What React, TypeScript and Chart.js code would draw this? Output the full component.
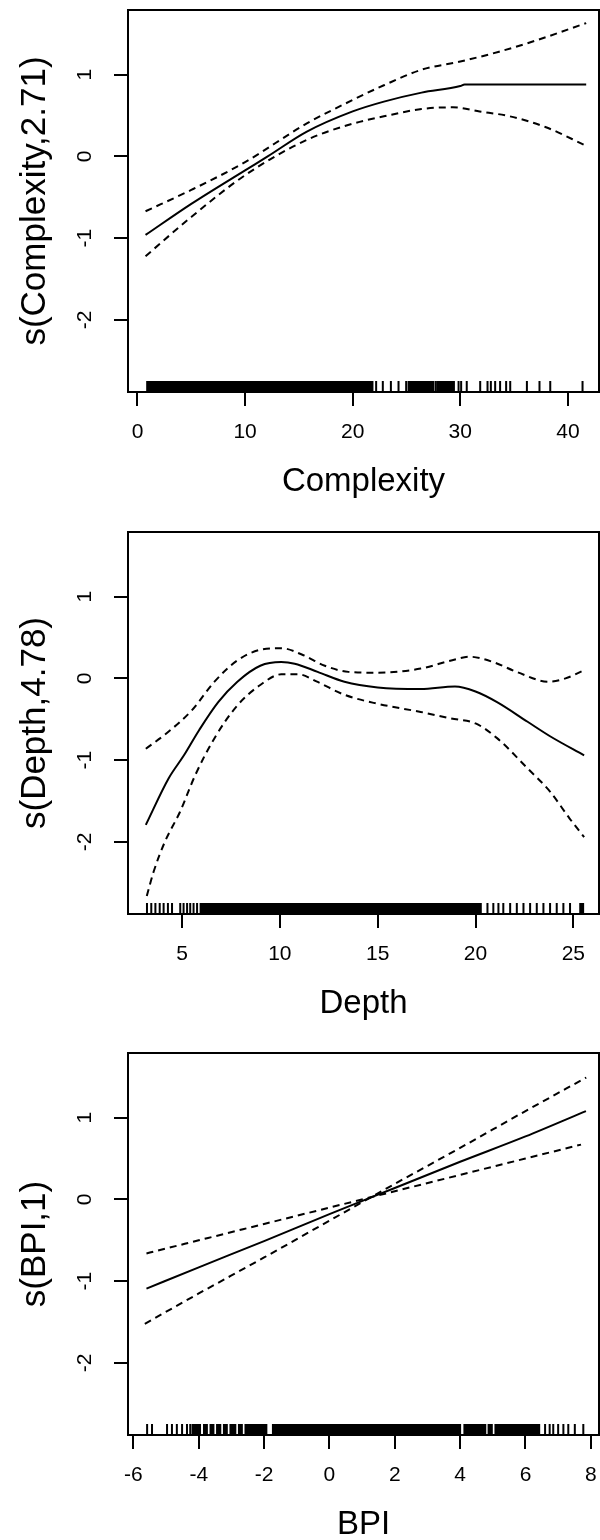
import React, { useEffect, useRef } from "react";
import { Chart, registerables } from "chart.js";

Chart.register(...registerables);

// ---------- shared axis settings ----------
const yRange = [-2.88, 1.79];
const yTickValues = [-2, -1, 0, 1];

// ---------- Panel 1: Complexity ----------
const complexityRange = [-0.88, 42.89];
const complexityTicks = [0, 10, 20, 30, 40];
const complexityFitX = [0.75, 5, 10, 12.1, 15.7, 20, 22.9, 26.4, 30, 30.4, 41.7];
const complexityFitY = [-0.96, -0.58, -0.17, 0.0, 0.3, 0.55, 0.67, 0.78, 0.86, 0.88, 0.88];
const complexityUpX = [0.75, 5, 10, 15.7, 20, 22.9, 26.4, 30, 33.6, 37.1, 41.7];
const complexityUpY = [-0.67, -0.41, -0.07, 0.4, 0.69, 0.87, 1.06, 1.16, 1.28, 1.42, 1.63];
const complexityLoX = [0.75, 5, 10, 15.7, 20, 22.9, 26.4, 29.3, 31.8, 34.6, 37.9, 41.7];
const complexityLoY = [-1.22, -0.74, -0.23, 0.2, 0.4, 0.49, 0.58, 0.6, 0.55, 0.49, 0.36, 0.13];
const complexityRugTicks = [22.18, 22.8, 23.55, 24.26, 24.97, 27.73, 29.84, 30.08, 30.6, 31.85, 32.53, 32.84, 33.24, 33.7, 34.26, 34.64, 36.19, 37.36, 38.36, 41.36];
const complexityRugBlocks = [[0.81, 21.93], [25.1, 27.6], [27.8, 29.5]];

// ---------- Panel 2: Depth ----------
const depthRange = [2.24, 26.31];
const depthTicks = [5, 10, 15, 20, 25];
const depthFitX = [3.15, 4.32, 5.1, 5.88, 6.85, 7.83, 9.0, 10.07, 10.76, 11.93, 13.3, 15, 17.2, 18.95, 20, 21.1, 22.66, 23.83, 25.55];
const depthFitY = [-1.79, -1.22, -0.94, -0.63, -0.29, -0.04, 0.155, 0.2, 0.18, 0.08, -0.04, -0.11, -0.13, -0.1, -0.16, -0.29, -0.53, -0.71, -0.94];
const depthUpX = [3.15, 4.32, 5.5, 6.66, 7.83, 9.0, 10.07, 11.15, 12.3, 13.5, 15, 17.2, 18.76, 19.7, 20.9, 22.1, 23.73, 24.6, 25.55];
const depthUpY = [-0.86, -0.65, -0.39, -0.04, 0.22, 0.35, 0.37, 0.29, 0.155, 0.08, 0.07, 0.12, 0.22, 0.265, 0.2, 0.08, -0.04, 0.0, 0.1];
const depthLoX = [3.2, 3.54, 4.12, 4.9, 5.68, 6.66, 7.83, 9.0, 10.07, 10.95, 11.9, 13.3, 15, 17.2, 18.76, 20, 21.1, 22.66, 23.83, 24.8, 25.55];
const depthLoY = [-2.66, -2.37, -2.0, -1.63, -1.18, -0.73, -0.33, -0.08, 0.05, 0.05, -0.04, -0.2, -0.31, -0.41, -0.49, -0.55, -0.73, -1.1, -1.39, -1.71, -1.94];
const depthRugTicks = [3.21, 3.43, 3.64, 3.86, 4.06, 4.28, 4.49, 4.91, 5.08, 5.26, 5.42, 5.59, 5.77, 20.61, 20.91, 21.17, 21.42, 21.77, 22.11, 22.45, 22.79, 23.13, 23.47, 23.81, 24.15, 24.49, 24.83];
const depthRugBlocks = [[5.9, 20.32], [25.3, 25.55]];

// ---------- Panel 3: BPI ----------
const bpiRange = [-6.165, 8.25];
const bpiTicks = [-6, -4, -2, 0, 2, 4, 6, 8];
const bpiFitX = [-5.6, -4, -2, 0, 2, 4, 6, 7.85];
const bpiFitY = [-1.09, -0.83, -0.51, -0.18, 0.14, 0.46, 0.77, 1.08];
const bpiBandAX = [-5.6, -4, -2, 0, 2, 4, 6, 7.7];
const bpiBandAY = [-0.66, -0.5, -0.3, -0.1, 0.1, 0.3, 0.5, 0.67];
const bpiBandBX = [-5.65, -4, -2, 0, 2, 4, 6, 7.86];
const bpiBandBY = [-1.52, -1.15, -0.71, -0.26, 0.19, 0.63, 1.08, 1.49];
const bpiRugTicks = [-5.58, -5.43, -4.97, -4.82, -4.67, -4.51, -4.36, -4.26, 6.6, 6.74, 6.85, 7.0, 7.16, 7.31, 7.51, 7.77];
const bpiRugBlocks = [[-4.22, -3.93], [-3.87, -3.72], [-3.67, -3.52], [-3.47, -3.31], [-3.26, -3.11], [-3.06, -2.85], [-2.8, -2.65], [-2.6, -1.9], [-1.76, 4.03], [4.1, 4.8], [4.84, 5.0], [5.05, 6.45]];

const FONT = "'Liberation Sans', Arial, Helvetica, sans-serif";

type Spec = {
  xTitle: string;
  yTitle: string;
  xRange: number[];
  xTicks: number[];
  lines: { x: number[]; y: number[]; dash: number[] }[];
  rugTicks: number[];
  rugBlocks: number[][];
};

const DASH = [7, 5];

const panels: { spec: Spec; top: number }[] = [
  {
    top: 0,
    spec: {
      xTitle: "Complexity",
      yTitle: "s(Complexity,2.71)",
      xRange: complexityRange,
      xTicks: complexityTicks,
      lines: [
        { x: complexityFitX, y: complexityFitY, dash: [] },
        { x: complexityUpX, y: complexityUpY, dash: DASH },
        { x: complexityLoX, y: complexityLoY, dash: DASH },
      ],
      rugTicks: complexityRugTicks,
      rugBlocks: complexityRugBlocks,
    },
  },
  {
    top: 522,
    spec: {
      xTitle: "Depth",
      yTitle: "s(Depth,4.78)",
      xRange: depthRange,
      xTicks: depthTicks,
      lines: [
        { x: depthFitX, y: depthFitY, dash: [] },
        { x: depthUpX, y: depthUpY, dash: DASH },
        { x: depthLoX, y: depthLoY, dash: DASH },
      ],
      rugTicks: depthRugTicks,
      rugBlocks: depthRugBlocks,
    },
  },
  {
    top: 1043,
    spec: {
      xTitle: "BPI",
      yTitle: "s(BPI,1)",
      xRange: bpiRange,
      xTicks: bpiTicks,
      lines: [
        { x: bpiFitX, y: bpiFitY, dash: [] },
        { x: bpiBandAX, y: bpiBandAY, dash: DASH },
        { x: bpiBandBX, y: bpiBandBY, dash: DASH },
      ],
      rugTicks: bpiRugTicks,
      rugBlocks: bpiRugBlocks,
    },
  },
];

const boxPlugin = {
  id: "box",
  afterDraw(chart: any) {
    const { ctx, chartArea } = chart;
    const { left, top, right, bottom } = chartArea;
    ctx.save();
    ctx.strokeStyle = "#000";
    ctx.lineWidth = 2;
    ctx.strokeRect(left, top, right - left, bottom - top);
    ctx.restore();
  },
};

const rugPlugin = {
  id: "rug",
  afterDatasetsDraw(chart: any, _args: any, opts: any) {
    const { ctx, chartArea } = chart;
    const xs = chart.scales.x;
    const h = opts.height || 11;
    const bottom = chartArea.bottom;
    ctx.save();
    ctx.fillStyle = "#000";
    ctx.strokeStyle = "#000";
    for (const [a, b] of opts.blocks || []) {
      const x1 = xs.getPixelForValue(a);
      const x2 = xs.getPixelForValue(b);
      ctx.fillRect(x1, bottom - h, x2 - x1, h);
    }
    ctx.lineWidth = 2;
    ctx.beginPath();
    for (const v of opts.ticks || []) {
      const x = xs.getPixelForValue(v);
      ctx.moveTo(x, bottom);
      ctx.lineTo(x, bottom - h);
    }
    ctx.stroke();
    ctx.restore();
  },
};

function makeConfig(spec: Spec): any {
  const datasets = spec.lines.map((l, i) => ({
    label: "line" + i,
    data: l.x.map((x, j) => ({ x, y: l.y[j] })),
    borderColor: "#000",
    backgroundColor: "#000",
    borderWidth: 2,
    borderDash: l.dash,
    pointRadius: 0,
    fill: false,
    tension: 0,
    cubicInterpolationMode: "monotone",
  }));
  return {
    type: "line",
    data: { datasets },
    plugins: [boxPlugin, rugPlugin],
    options: {
      animation: false,
      responsive: false,
      maintainAspectRatio: false,
      events: [],
      layout: { padding: { top: 10, right: 1, left: 0, bottom: 0 }, autoPadding: false },
      plugins: {
        legend: { display: false },
        tooltip: { enabled: false },
        rug: { ticks: spec.rugTicks, blocks: spec.rugBlocks, height: 11 },
      },
      scales: {
        x: {
          type: "linear",
          position: "bottom",
          min: spec.xRange[0],
          max: spec.xRange[1],
          afterBuildTicks: (s: any) => {
            s.ticks = spec.xTicks.map((v) => ({ value: v }));
          },
          afterFit: (s: any) => {
            s.height = 128;
            s.paddingLeft = 0;
            s.paddingRight = 0;
          },
          grid: {
            drawOnChartArea: false,
            drawTicks: true,
            tickLength: 14,
            tickWidth: 2,
            tickColor: "#000",
            lineWidth: 2,
            color: "#000",
          },
          border: { display: false },
          ticks: {
            color: "#000",
            font: { family: FONT, size: 21 },
            padding: 14,
            maxRotation: 0,
            minRotation: 0,
            autoSkip: false,
            callback: (v: any) => String(v),
          },
          title: {
            display: true,
            text: spec.xTitle,
            color: "#000",
            font: { family: FONT, size: 33, lineHeight: 1.2 },
            padding: { top: 0, bottom: 18 },
          },
        },
        y: {
          type: "linear",
          position: "left",
          min: yRange[0],
          max: yRange[1],
          afterBuildTicks: (s: any) => {
            s.ticks = yTickValues.map((v) => ({ value: v }));
          },
          afterFit: (s: any) => {
            s.width = 128;
            s.paddingTop = 0;
            s.paddingBottom = 0;
          },
          grid: {
            drawOnChartArea: false,
            drawTicks: true,
            tickLength: 14,
            tickWidth: 2,
            tickColor: "#000",
            lineWidth: 2,
            color: "#000",
          },
          border: { display: false },
          ticks: {
            color: "#000",
            font: { family: FONT, size: 21 },
            padding: 19,
            minRotation: 90,
            maxRotation: 90,
            crossAlign: "center",
            autoSkip: false,
            callback: (v: any) => String(v),
          },
          title: {
            display: true,
            text: spec.yTitle,
            color: "#000",
            font: { family: FONT, size: 35, lineHeight: 1.2 },
            padding: { top: 14, bottom: 0 },
          },
        },
      },
    },
  };
}

function Panel({ spec, top }: { spec: Spec; top: number }) {
  const ref = useRef<HTMLCanvasElement>(null);
  useEffect(() => {
    const chart = new Chart(ref.current as HTMLCanvasElement, makeConfig(spec));
    return () => chart.destroy();
  }, [spec]);
  return (
    <canvas
      ref={ref}
      width={600}
      height={520}
      style={{ position: "absolute", left: 0, top, width: 600, height: 520 }}
    />
  );
}

export default function App() {
  return (
    <div
      style={{
        position: "absolute",
        left: 0,
        top: 0,
        width: 600,
        height: 1540,
        overflow: "hidden",
        background: "#fff",
      }}
    >
      {panels.map((p, i) => (
        <Panel key={i} spec={p.spec} top={p.top} />
      ))}
    </div>
  );
}
